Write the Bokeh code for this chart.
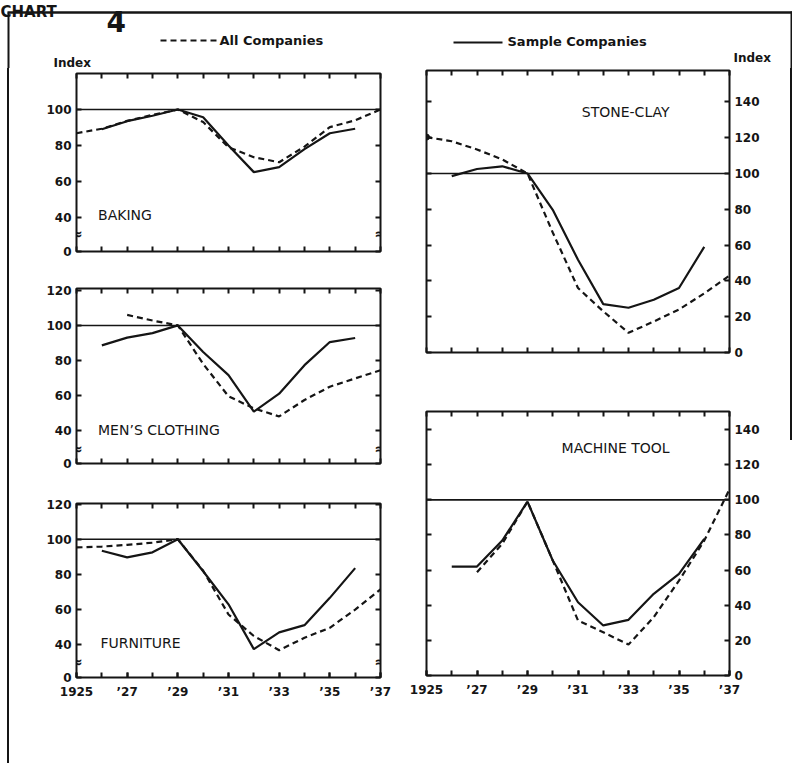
from bokeh.plotting import figure
from bokeh.layouts import column, row
from bokeh.models import Range1d, FixedTicker, LinearAxis, Span, Label, Spacer
from bokeh.core.properties import value
from bokeh.embed import file_html
from bokeh.resources import INLINE

# ---------------- data (index, 1929 = 100) ----------------
years = list(range(1925, 1938))
labelled_years = [1925, 1927, 1929, 1931, 1933, 1935, 1937]
year_labels = {1925: "1925", 1927: "\u201927", 1929: "\u201929", 1931: "\u201931",
               1933: "\u201933", 1935: "\u201935", 1937: "\u201937"}

baking_all_years = list(range(1925, 1938))
baking_all = [86.8, 89.3, 93.7, 97.0, 100.0, 93.0, 79.0, 73.5, 70.7, 79.4, 90.2, 94.0, 100.0]
baking_sample_years = list(range(1926, 1937))
baking_sample = [89.0, 93.5, 96.5, 100.0, 95.7, 80.0, 65.2, 68.0, 78.0, 86.8, 89.3]

mens_all_years = list(range(1927, 1938))
mens_all = [106.0, 102.8, 100.0, 78.0, 59.5, 52.6, 48.0, 57.4, 65.0, 69.7, 74.4]
mens_sample_years = list(range(1926, 1937))
mens_sample = [88.6, 93.0, 95.6, 100.0, 84.8, 71.6, 50.7, 61.0, 77.3, 90.5, 92.8]

furn_all_years = list(range(1925, 1938))
furn_all = [95.3, 95.8, 96.8, 98.0, 100.0, 82.0, 57.0, 44.7, 36.6, 43.7, 49.4, 59.8, 71.3]
furn_sample_years = list(range(1926, 1937))
furn_sample = [93.4, 89.6, 92.5, 100.0, 81.7, 62.8, 37.2, 46.8, 50.9, 66.5, 83.5]

stone_all_years = list(range(1925, 1938))
stone_all = [120.3, 118.0, 113.4, 107.8, 100.0, 67.0, 36.0, 23.0, 11.0, 17.3, 24.0, 33.0, 43.0]
stone_sample_years = list(range(1926, 1937))
stone_sample = [98.5, 102.5, 104.0, 100.0, 79.7, 51.8, 27.0, 25.0, 29.5, 36.0, 59.0]

mach_all_years = list(range(1927, 1938))
mach_all = [58.8, 75.0, 99.0, 65.5, 31.3, 24.6, 17.6, 33.2, 54.0, 76.8, 106.0]
mach_sample_years = list(range(1926, 1937))
mach_sample = [62.0, 62.0, 76.8, 99.0, 65.5, 41.7, 28.5, 31.7, 46.5, 57.9, 77.8]

left_ticks_baking = [21.1, 40, 60, 80, 100]
left_ticks_mens = [21.1, 40, 60, 80, 100, 120]
left_ticks_furn = [21.0, 40, 60, 80, 100, 120]
right_ticks = [0, 20, 40, 60, 80, 100, 120, 140]

INK = "#151515"
FONT = "DejaVu Sans"


def style_axis(ax, show):
    ax.axis_line_color = None
    for kind in ("major", "minor"):
        setattr(ax, kind + "_tick_in", 5)
        setattr(ax, kind + "_tick_out", 0)
        setattr(ax, kind + "_tick_line_width", 2)
        setattr(ax, kind + "_tick_line_color", INK)
    if show:
        ax.major_label_text_font = FONT
        ax.major_label_text_font_style = "bold"
        ax.major_label_text_font_size = "12px"
        ax.major_label_text_color = INK
        ax.major_label_standoff = 5
    else:
        ax.major_label_standoff = 0


def make_panel(w, h, bl, br, bt, bb, ylo, yhi, yticks, zero_tick, label_side, show_x,
               name, name_x, name_y, all_x, all_y, smp_x, smp_y, breaks):
    p = figure(width=w, height=h, x_range=Range1d(1925, 1937), y_range=Range1d(ylo, yhi),
               output_backend="svg", toolbar_location=None,
               x_axis_location=None, y_axis_location=None,
               min_border_left=bl, min_border_right=br, min_border_top=bt, min_border_bottom=bb)
    p.grid.visible = False
    p.outline_line_color = INK
    p.outline_line_width = 2
    p.background_fill_color = "white"
    p.border_fill_color = "white"

    for loc in ("left", "right"):
        show = loc == label_side
        if show:
            ax = LinearAxis(ticker=FixedTicker(ticks=yticks))
        else:
            ax = LinearAxis(ticker=FixedTicker(ticks=[], minor_ticks=yticks))
        style_axis(ax, show)
        if show and zero_tick is not None:
            ax.major_label_overrides = {zero_tick: "0"}
        p.add_layout(ax, loc)
    for loc in ("above", "below"):
        show = (loc == "below") and show_x
        if show:
            ax = LinearAxis(ticker=FixedTicker(ticks=labelled_years, minor_ticks=years))
        else:
            ax = LinearAxis(ticker=FixedTicker(ticks=[], minor_ticks=years))
        style_axis(ax, show)
        if show:
            ax.major_label_overrides = {yr: year_labels[yr] for yr in labelled_years}
            ax.major_label_standoff = 7
        p.add_layout(ax, loc)

    p.add_layout(Span(location=100, dimension="width", line_color=INK, line_width=1.6))
    p.line(all_x, all_y, line_color=INK, line_width=2.2, line_dash="6 4")
    p.line(smp_x, smp_y, line_color=INK, line_width=2.2)

    p.add_layout(Label(x=name_x, y=name_y, text=name, text_font=FONT, text_font_size="14px",
                       text_color=INK, text_baseline="middle"))
    if breaks is not None:
        for bx in (1925, 1937):
            p.add_layout(Label(x=bx, y=breaks, text="\u2248", text_align="center",
                               text_baseline="middle", text_font=FONT, text_font_size="15px",
                               text_font_style="bold", text_color=INK))
    return p


LW, RW = 395, 386
baking = make_panel(LW, 207, 67, 24, 5, 24, 21.1, 120, left_ticks_baking, 21.1, "left", False,
                    "BAKING", 1925.85, 41.5, baking_all_years, baking_all,
                    baking_sample_years, baking_sample, 31)
mens = make_panel(LW, 215, 67, 24, 13, 27, 21.1, 121.1, left_ticks_mens, 21.1, "left", False,
                  "MEN\u2019S CLOTHING", 1925.85, 40, mens_all_years, mens_all,
                  mens_sample_years, mens_sample, 29.5)
furn = make_panel(LW, 273, 67, 24, 13, 86, 21.0, 120.4, left_ticks_furn, 21.0, "left", True,
                  "FURNITURE", 1925.95, 40.7, furn_all_years, furn_all,
                  furn_sample_years, furn_sample, 29.7)
stone = make_panel(RW, 312, 22, 61, 2, 28, 0, 157.5, right_ticks, None, "right", False,
                   "STONE-CLAY", 1931.15, 134.5, stone_all_years, stone_all,
                   stone_sample_years, stone_sample, None)
stone.scatter([stone_all_years[0]], [stone_all[0]], size=6, color=INK)
mach = make_panel(RW, 383, 22, 61, 31, 88, 0, 150.3, right_ticks, None, "right", True,
                  "MACHINE TOOL", 1930.35, 129.5, mach_all_years, mach_all,
                  mach_sample_years, mach_sample, None)

# ---------------- header (title, legend, axis titles) ----------------
HW = 7 + 2 + LW + RW + 2
hdr = figure(width=HW, height=68, x_range=Range1d(0, HW), y_range=Range1d(68, 0),
             output_backend="svg", toolbar_location=None,
             x_axis_location=None, y_axis_location=None,
             min_border_left=0, min_border_right=0, min_border_top=0, min_border_bottom=0)
hdr.grid.visible = False
hdr.outline_line_color = None
hdr.line([7, HW], [12, 12], line_color=INK, line_width=2.5)
hdr.line([8, 8], [12, 68], line_color=INK, line_width=2)
hdr.line([HW - 1, HW - 1], [11, 68], line_color=INK, line_width=2)
hdr.text(x=[0], y=[11], text=["CHART"], text_font=value(FONT), text_font_style="bold",
         text_font_size="15px", text_color=INK, text_baseline="alphabetic")
hdr.text(x=[106], y=[21], text=["4"], text_font=value(FONT), text_font_style="bold",
         text_font_size="28px", text_color=INK, text_baseline="alphabetic")
hdr.line([160, 217], [40, 40], line_color=INK, line_width=2.2, line_dash="6 4")
hdr.text(x=[219], y=[40], text=["All Companies"], text_font=value(FONT), text_font_style="bold",
         text_font_size="13px", text_color=INK, text_baseline="middle")
hdr.line([453, 502], [42, 42], line_color=INK, line_width=2.2)
hdr.text(x=[507], y=[41], text=["Sample Companies"], text_font=value(FONT),
         text_font_style="bold", text_font_size="13px", text_color=INK, text_baseline="middle")
hdr.text(x=[53], y=[62], text=["Index"], text_font=value(FONT), text_font_style="bold",
         text_font_size="12px", text_color=INK, text_baseline="middle")
hdr.text(x=[733], y=[57], text=["Index"], text_font=value(FONT), text_font_style="bold",
         text_font_size="12px", text_color=INK, text_baseline="middle")

BH = 695
left_border = row(Spacer(width=7, height=BH),
                  Spacer(width=2, height=BH, styles={"background-color": INK}))
right_border = column(Spacer(width=2, height=372, styles={"background-color": INK}),
                      Spacer(width=2, height=BH - 372))
body = row(left_border, column(baking, mens, furn), column(stone, mach), right_border)
layout = column(hdr, body)

open("out.html", "w").write(file_html(layout, INLINE))
